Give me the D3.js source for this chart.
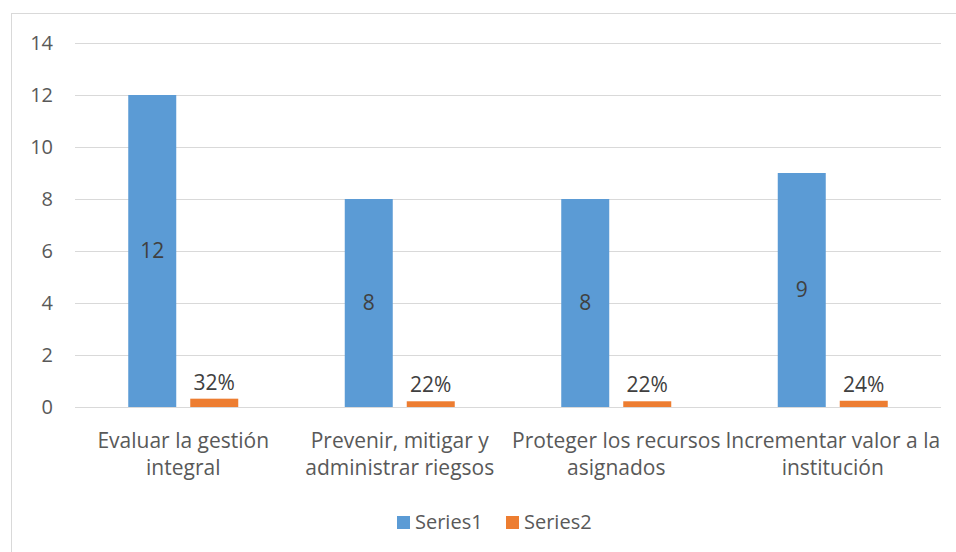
<!DOCTYPE html>
<html>
<head>
<meta charset="utf-8">
<script src="https://cdn.jsdelivr.net/npm/d3@7"></script>
<style>
  html, body { margin: 0; padding: 0; background: #fff; }
  svg { display: block; font-family: "Open Sans", Lato, sans-serif; }
</style>
</head>
<body>
<svg id="chart" width="956" height="552"></svg>
<script>
// Chart data
const categories = [
  ["Evaluar la gestión", "integral"],
  ["Prevenir, mitigar y", "administrar riegsos"],
  ["Proteger los recursos", "asignados"],
  ["Incrementar valor a la", "institución"]
];
const series1 = [12, 8, 8, 9];
const series2 = [0.32, 0.22, 0.22, 0.24];
const seriesNames = ["Series1", "Series2"];
const yTicks = [0, 2, 4, 6, 8, 10, 12, 14];

const colors = ["#5b9bd5", "#ed7d31"];
const textColor = "#595959";
const fontFamily = "'Open Sans', Lato, sans-serif";
const fsTick = 20;
const fs = 21;

const svg = d3.select("#chart");

// Outer chart frame
svg.append("rect")
  .attr("x", 11.5).attr("y", 13.5)
  .attr("width", 960).attr("height", 560)
  .attr("fill", "none").attr("stroke", "#d9d9d9").attr("stroke-width", 1);

const plot = { left: 75, right: 941, top: 43, bottom: 407 };

const x = d3.scaleBand()
  .domain(d3.range(categories.length))
  .range([plot.left, plot.right]);

const y = d3.scaleLinear()
  .domain([0, 14])
  .range([plot.bottom, plot.top]);

const barW = 48, barGap = 14;

// Gridlines and y tick labels
const yAxis = d3.axisLeft(y).tickValues(yTicks).tickSize(-(plot.right - plot.left)).tickPadding(22);
const gy = svg.append("g").attr("transform", `translate(${plot.left},0)`).call(yAxis);
gy.select(".domain").remove();
gy.selectAll(".tick line").attr("stroke", "#d9d9d9").attr("stroke-width", 1);
gy.selectAll(".tick text")
  .attr("fill", textColor).attr("font-size", fsTick)
  .attr("font-family", fontFamily);

// Series1 bars
const cx = i => x(i) + x.bandwidth() / 2;
svg.append("g").selectAll("rect").data(series1).join("rect")
  .attr("x", (d, i) => cx(i) - barGap / 2 - barW)
  .attr("y", d => y(d))
  .attr("width", barW)
  .attr("height", d => y(0) - y(d))
  .attr("fill", colors[0]);

// Series2 bars
svg.append("g").selectAll("rect").data(series2).join("rect")
  .attr("x", (d, i) => cx(i) + barGap / 2)
  .attr("y", d => y(d))
  .attr("width", barW)
  .attr("height", d => y(0) - y(d))
  .attr("fill", colors[1]);

// Baseline over the bars
svg.append("line")
  .attr("x1", plot.left).attr("x2", plot.right)
  .attr("y1", y(0) + 0.5).attr("y2", y(0) + 0.5)
  .attr("stroke", "#d9d9d9");

// Value labels
svg.append("g").selectAll("text").data(series1).join("text")
  .attr("x", (d, i) => cx(i) - barGap / 2 - barW / 2)
  .attr("y", d => (y(d) + y(0)) / 2)
  .attr("dy", "0.35em")
  .attr("text-anchor", "middle")
  .attr("font-size", fs)
  .attr("fill", "#404040")
  .text(d => d);

svg.append("g").selectAll("text").data(series2).join("text")
  .attr("x", (d, i) => cx(i) + barGap / 2 + barW / 2)
  .attr("y", d => y(d) - 9)
  .attr("text-anchor", "middle")
  .attr("font-size", fs)
  .attr("fill", "#404040")
  .text(d => d3.format(".0%")(d));

// Category labels (two lines each)
const catG = svg.append("g").selectAll("text").data(categories).join("text")
  .attr("text-anchor", "middle")
  .attr("font-size", fs)
  .attr("fill", textColor);
catG.selectAll("tspan").data((d, i) => d.map(t => ({ t, i }))).join("tspan")
  .attr("x", d => cx(d.i))
  .attr("y", (d, j) => 448 + j * 27)
  .text(d => d.t);

// Legend
const legend = svg.append("g");
const legendItems = [
  { name: seriesNames[0], color: colors[0], x: 397 },
  { name: seriesNames[1], color: colors[1], x: 506 }
];
legendItems.forEach(it => {
  legend.append("rect")
    .attr("x", it.x).attr("y", 516).attr("width", 13).attr("height", 13)
    .attr("fill", it.color);
  legend.append("text")
    .attr("x", it.x + 18).attr("y", 529)
    .attr("font-size", 20)
    .attr("fill", textColor)
    .text(it.name);
});
</script>
</body>
</html>
